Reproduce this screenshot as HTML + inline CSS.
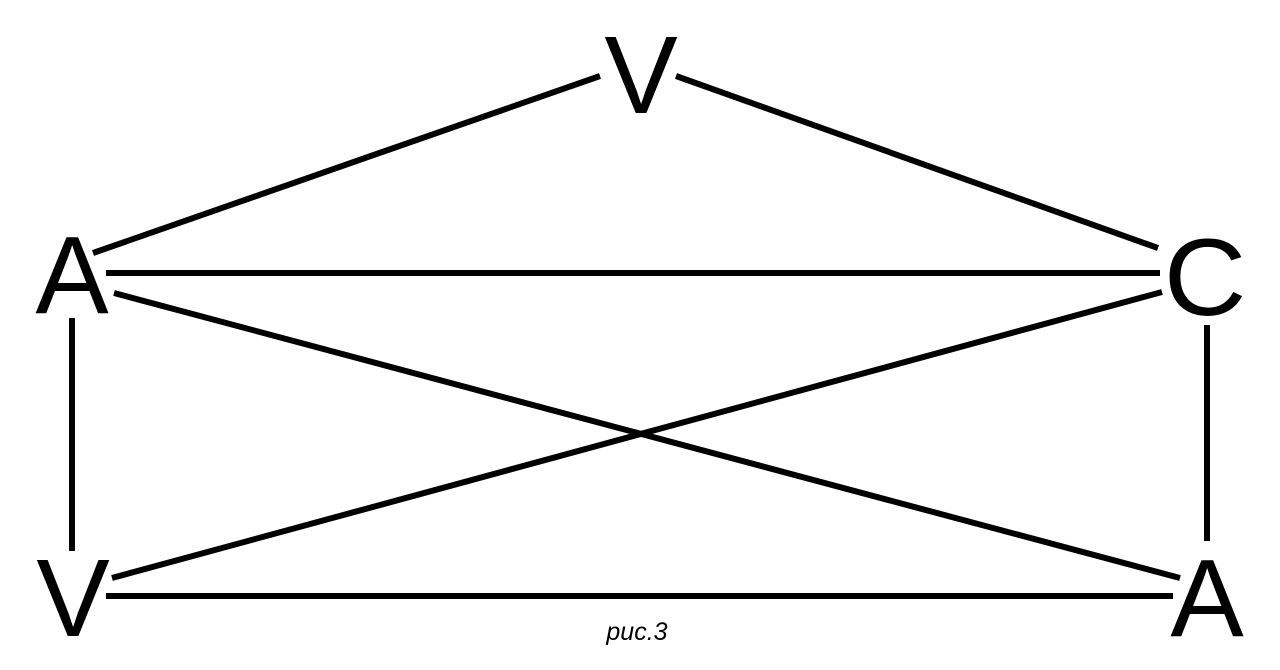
<!DOCTYPE html>
<html><head><meta charset="utf-8"><style>
html,body{margin:0;padding:0;background:#fff;width:1280px;height:670px;overflow:hidden}
svg{display:block}
text{font-family:"Liberation Sans",sans-serif;fill:#000}
</style></head><body>
<svg width="1280" height="670" viewBox="0 0 1280 670">
<g stroke="#000" stroke-width="6" fill="none">
<line x1="93" y1="253" x2="600" y2="76"/>
<line x1="676" y1="76" x2="1158" y2="248"/>
<line x1="106" y1="273" x2="1160" y2="273"/>
<line x1="114" y1="293" x2="1180" y2="578"/>
<line x1="1162" y1="292" x2="112" y2="578"/>
<line x1="72" y1="318" x2="72" y2="551"/>
<line x1="1207" y1="325" x2="1207" y2="541"/>
<line x1="106" y1="596" x2="1173" y2="596"/>
</g>
<g font-size="110" text-anchor="middle">
<text x="641" y="113">V</text>
<text x="72" y="313">A</text>
<text x="1205" y="315" transform="translate(1205 0) scale(1.04 1) translate(-1205 0)">C</text>
<text x="73" y="636">V</text>
<text x="1207" y="636">A</text>
</g>
<text x="637" y="640" font-size="25" font-style="italic" text-anchor="middle">рис.3</text>
</svg>
</body></html>
